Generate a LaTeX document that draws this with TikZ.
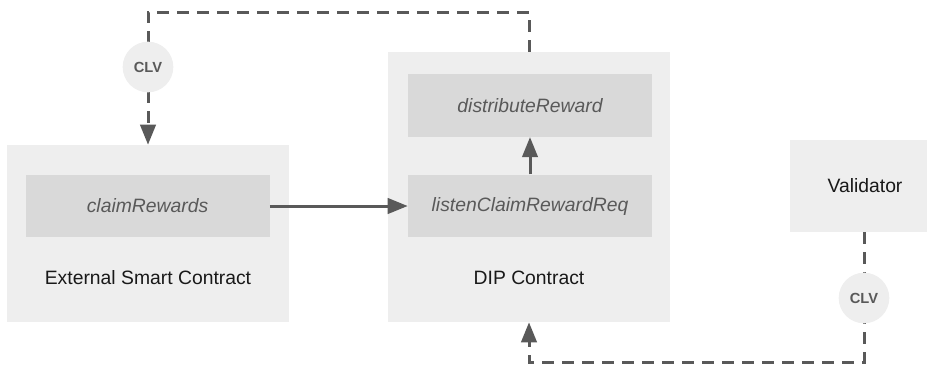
\documentclass[tikz,border=0pt]{standalone}
\usepackage{fontspec}
\setmainfont{Liberation Sans}
\usetikzlibrary{arrows.meta}

\definecolor{boxgray}{HTML}{EEEEEE}
\definecolor{fungray}{HTML}{D9D9D9}
\definecolor{linegray}{HTML}{595959}

\begin{document}
\begin{tikzpicture}[x=0.75pt, y=-0.75pt,
        outer/.style={fill=boxgray, draw=none, inner sep=0pt},
        func/.style={fill=fungray, draw=none, inner sep=0pt, minimum width=183pt, minimum height=47pt,
            text=linegray, font=\fontsize{14.5}{17}\selectfont\itshape},
        label/.style={font=\fontsize{14.5}{17}\selectfont, text=black!90},
        clvnode/.style={circle, fill=boxgray, draw=none, minimum size=38pt, inner sep=0pt,
            text=linegray, font=\fontsize{11}{13}\selectfont\bfseries},
        flow/.style={draw=linegray, line width=2.25pt, -{Triangle[length=15pt, width=11.5pt]}},
        dashflow/.style={flow, dash pattern=on 9pt off 6pt}]
        \def \w {282}

        \clip (0,0) rectangle (927,365);
        \useasboundingbox (0,0) rectangle (927,365);

        \node[outer, minimum width=\w*0.75pt, minimum height=132.75pt] (esc) at (148,233.5) {};
        \node[outer, minimum width=\w*0.75pt, minimum height=202.5pt] (dip) at (529,187) {};
        \node[outer, minimum width=112.5pt, minimum height=69pt] (val) at (865,186) {};

        \node[func] (claim) at (147.5,206) {claimRewards};
        \node[func] (distr) at (530,105.5) {distributeReward};
        \node[func] (listen) at (530,206) {listenClaimRewardReq};

        \node[label] (esclabel) at (148,278) {External Smart Contract};
        \node[label] (diplabel) at (529,278) {DIP Contract};
        \node[label] (vallabel) at (865,186) {Validator};

        \coordinate (top) at (529,12);
        \coordinate (bottom) at (864,362);

        \draw[flow] (claim.east) -- (listen.west);
        \draw[flow] (listen.north) -- (distr.south);
        \draw[dashflow] (dip.north) -- (top) -| (esc.north);
        \draw[dashflow] (val.south -| bottom) -- (bottom) -| (dip.south);

        \node[clvnode] (clvtop) at (148,67) {CLV};
        \node[clvnode] (clvbottom) at (864,298) {CLV};
    \end{tikzpicture}
\end{document}
